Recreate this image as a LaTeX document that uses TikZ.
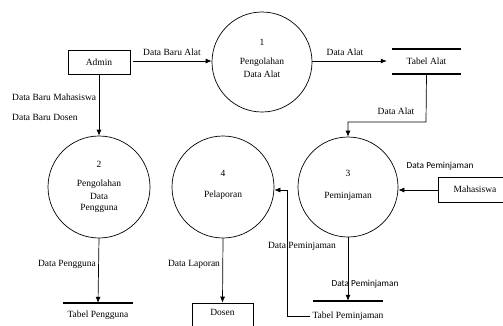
\documentclass[tikz,border=0pt]{standalone}
\usepackage{fontspec}
\setmainfont{Liberation Serif}
\newfontfamily\lblsans{Carlito}
\usetikzlibrary{arrows.meta}
\begin{document}
\begin{tikzpicture}[x=1pt,y=-1pt,
  proc/.style={draw,circle,line width=0.7pt,minimum size=#1,inner sep=0pt},
  entity/.style={draw,line width=0.7pt,minimum width=62pt,minimum height=24pt,inner sep=0pt},
  storetxt/.style={inner sep=1pt,font=\fontsize{9.5}{11}\selectfont},
  txt/.style={inner sep=0pt,font=\fontsize{9.5}{11}\selectfont},
  stxt/.style={inner sep=0pt,font=\lblsans\fontsize{9.3}{11}\selectfont},
  storeline/.style={line width=1.6pt},
  flow/.style={line width=0.7pt,-{Latex[length=6pt,width=5pt]}}]
\useasboundingbox (0,0) rectangle (503,325);
\clip (0,0) rectangle (503,325);
\fill[white] (0,0) rectangle (503,325);

% processes
\node[proc=100pt] (p1) at (262,62) {};
\node[proc=102pt] (p2) at (99,187) {};
\node[proc=100pt] (p3) at (348,187) {};
\node[proc=102pt] (p4) at (223,187) {};

\node[txt] (p1n) at (262,42) {1};
\node[txt] (p1a) at (262,62) {Pengolahan};
\node[txt] (p1b) at (262,74) {Data Alat};
\node[txt] (p2n) at (99,164) {2};
\node[txt] (p2a) at (99,184) {Pengolahan};
\node[txt] (p2b) at (99,196) {Data};
\node[txt] (p2c) at (99,208) {Pengguna};
\node[txt] (p3n) at (348,173) {3};
\node[txt] (p3a) at (348,196) {Peminjaman};
\node[txt] (p4n) at (223,173) {4};
\node[txt] (p4a) at (223,195) {Pelaporan};

% entities
\node[entity,font=\fontsize{9.5}{11}\selectfont] (admin) at (99,62) {Admin};
\node[draw,line width=0.7pt,minimum width=70pt,minimum height=25pt,inner sep=0pt] (mhs) at (473,189.5) {};
\node[txt] (mhst) at (475,189) {Mahasiswa};
\node[draw,line width=0.7pt,minimum width=61pt,minimum height=30pt,inner sep=0pt] (dosen) at (222.5,318) {};
\node[txt] (dosent) at (222.5,312) {Dosen};

% stores
\node[minimum width=69pt,minimum height=25pt,inner sep=0pt] (talat) at (426.5,61.5) {};
\node[txt] (talatt) at (426.5,61) {Tabel Alat};
\draw[storeline] (talat.north west) -- (talat.north east);
\draw[storeline] (talat.south west) -- (talat.south east);

\node[minimum width=70pt,minimum height=25pt,inner sep=0pt] (tpeng) at (98,315.5) {};
\node[txt] (tpengt) at (98,315) {Tabel Pengguna};
\draw[storeline] (tpeng.north west) -- (tpeng.north east);

\node[minimum width=70pt,minimum height=28pt,inner sep=0pt] (tpem) at (348,315) {};
\node[txt,inner sep=2pt] (tpemt) at (348,316) {Tabel Peminjaman};
\draw[storeline] (tpem.north west) -- (tpem.north east);

% flows
\draw[flow,shorten <=3pt] (admin.east |- 0,61) -- (p1.west |- 0,61);
\draw[flow,shorten >=5pt] (p1.east |- 0,61) -- (talat.west |- 0,61);
\draw[flow] (talat.south) -- (426,122) -| (p3.north);
\draw[flow] (admin.south) -- (p2.north);
\draw[flow] (p2.south) -- (tpeng.north);
\draw[flow] (p4.south) -- (dosen.north);
\draw[flow] (p3.south) -- (tpem.north);
\draw[flow] (mhs.west |- 0,190) -- (p3.east |- 0,190);
\draw[flow] (tpemt.west) -| (287,190) -- (p4.east |- 0,190);

% labels
\node[txt] (l1) at (172,52) {Data Baru Alat};
\node[txt] (l2) at (345,52) {Data Alat};
\node[txt] (l3) at (396,111) {Data Alat};
\node[txt,anchor=west] (l4) at (12,97) {Data Baru Mahasiswa};
\node[txt,anchor=west] (l5) at (12,117) {Data Baru Dosen};
\node[txt] (l6) at (67,264) {Data Pengguna};
\node[txt] (l7) at (194,264) {Data Laporan};
\node[txt] (l8) at (302,246) {Data Peminjaman};
\node[stxt] (l9) at (440,166) {Data Peminjaman};
\node[stxt] (l10) at (365,284) {Data Peminjaman};
\end{tikzpicture}
\end{document}
